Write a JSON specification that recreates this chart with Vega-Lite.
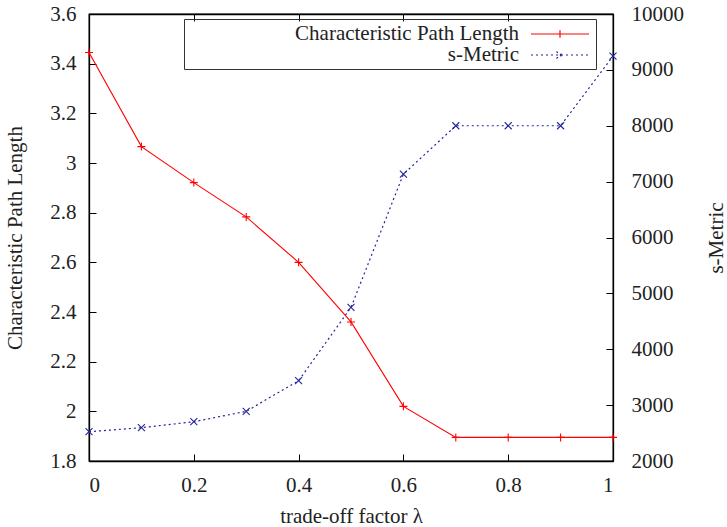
{
  "$schema": "https://vega.github.io/schema/vega-lite/v6.json",
  "width": 524,
  "height": 447,
  "autosize": "none",
  "padding": {"left": 89, "top": 14, "right": 114, "bottom": 66},
  "background": "white",
  "config": {
    "font": "Liberation Serif",
    "view": {"stroke": "black", "strokeWidth": 1.3},
    "axis": {
      "labelFont": "Liberation Serif",
      "titleFont": "Liberation Serif",
      "labelFontSize": 21,
      "titleFontSize": 21,
      "titleFontWeight": "normal",
      "labelColor": "#222222",
      "titleColor": "#222222",
      "domainColor": "black",
      "domainWidth": 1.3,
      "tickColor": "black",
      "tickWidth": 1,
      "tickSize": -7,
      "grid": false,
      "labelPadding": 20
    },
    "legend": {
      "labelFont": "Liberation Serif",
      "labelFontSize": 21,
      "labelColor": "#222222"
    }
  },
  "data": {
    "values": [
      {"lambda": 0.0, "cpl": 3.445, "sm": 2524},
      {"lambda": 0.1, "cpl": 3.066, "sm": 2596},
      {"lambda": 0.2, "cpl": 2.921, "sm": 2703},
      {"lambda": 0.3, "cpl": 2.783, "sm": 2889},
      {"lambda": 0.4, "cpl": 2.600, "sm": 3437},
      {"lambda": 0.5, "cpl": 2.360, "sm": 4749},
      {"lambda": 0.6, "cpl": 2.020, "sm": 7134},
      {"lambda": 0.7, "cpl": 1.895, "sm": 8000},
      {"lambda": 0.8, "cpl": 1.895, "sm": 8000},
      {"lambda": 0.9, "cpl": 1.895, "sm": 8000},
      {"lambda": 1.0, "cpl": 1.895, "sm": 9245}
    ]
  },
  "layer": [
    {
      "encoding": {
        "x": {
          "field": "lambda", "type": "quantitative",
          "scale": {"domain": [0, 1], "nice": false},
          "axis": {"orient": "bottom", "values": [0, 0.2, 0.4, 0.6, 0.8, 1], "format": "~g", "title": "trade-off factor λ", "labelPadding": 20, "titlePadding": 10}
        },
        "y": {
          "field": "cpl", "type": "quantitative",
          "scale": {"domain": [1.8, 3.6], "nice": false, "zero": false},
          "axis": {"orient": "left", "values": [1.8, 2, 2.2, 2.4, 2.6, 2.8, 3, 3.2, 3.4, 3.6], "format": "~g", "title": "Characteristic Path Length", "titlePadding": 24}
        },
        "color": {
          "datum": "Characteristic Path Length", "type": "nominal",
          "scale": {"domain": ["Characteristic Path Length", "s-Metric"], "range": ["#ff0000", "#24249c"]},
          "legend": {
            "title": null,
            "orient": "none",
            "legendX": 95,
            "legendY": 5,
            "padding": 4,
            "strokeColor": "#333333",
            "symbolSize": 400,
            "symbolStrokeWidth": 1.2,
            "symbolOffset": 361,
            "labelOffset": -52,
            "labelAlign": "right",
            "labelLimit": 400,
            "rowPadding": 0,
            "encode": {
              "symbols": {
                "update": {
                  "shape": {"signal": "datum.value === 's-Metric' ? 'M-2.9,0H2.9M-0.35,-0.35L0.35,0.35M-0.35,0.35L0.35,-0.35' : 'M-2.9,0H2.9M0,-0.38V0.38'"},
                  "strokeDash": {"signal": "datum.value === 's-Metric' ? [2,3] : []"},
                  "fill": {"value": "transparent"}
                }
              }
            }
          }
        }
      },
      "layer": [
        {"mark": {"type": "line", "strokeWidth": 1.1}},
        {"mark": {"type": "point", "shape": "M-1,0H1M0,-1V1", "size": 64, "filled": false, "strokeWidth": 1.1, "opacity": 1}}
      ]
    },
    {
      "encoding": {
        "x": {
          "field": "lambda", "type": "quantitative",
          "scale": {"domain": [0, 1], "nice": false},
          "axis": {"orient": "top", "values": [0, 0.2, 0.4, 0.6, 0.8, 1], "labels": false, "title": null}
        },
        "y": {
          "field": "sm", "type": "quantitative",
          "scale": {"domain": [2000, 10000], "nice": false, "zero": false},
          "axis": {"orient": "right", "values": [2000, 3000, 4000, 5000, 6000, 7000, 8000, 9000, 10000], "format": "d", "title": "s-Metric", "titleAngle": -90, "titlePadding": 43, "labelPadding": 25}
        },
        "color": {"datum": "s-Metric", "type": "nominal"}
      },
      "layer": [
        {"mark": {"type": "line", "strokeWidth": 1.2, "strokeDash": [2, 3]}},
        {"mark": {"type": "point", "shape": "M-1,-1L1,1M-1,1L1,-1", "size": 49, "filled": false, "strokeWidth": 1.1, "opacity": 1}}
      ]
    }
  ],
  "resolve": {"scale": {"y": "independent"}}
}
